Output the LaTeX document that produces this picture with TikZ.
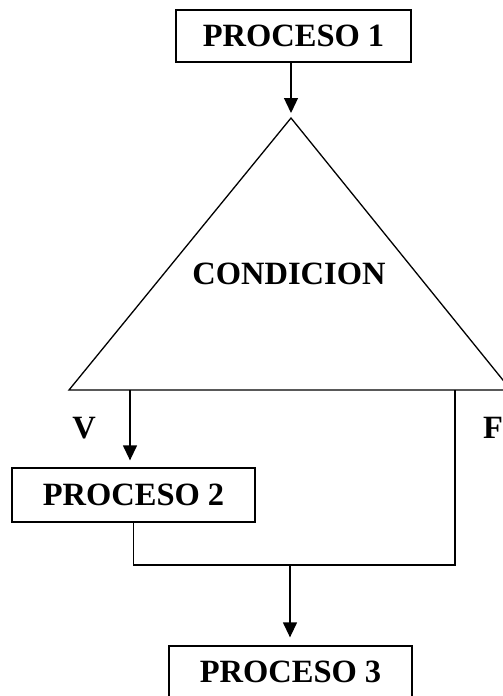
\documentclass[tikz,border=0pt]{standalone}
\usepackage{fontspec}
\setmainfont{Liberation Serif}
\usetikzlibrary{arrows.meta}
\begin{document}
\begin{tikzpicture}[x=1pt,y=-1pt,
  every node/.style={font=\fontsize{32.5}{32.5}\selectfont\bfseries},
  procbox/.style={draw,line width=1.3pt,inner sep=0pt,minimum height=#1},
  line/.style={line width=1.3pt},
  flow/.style={line width=1.3pt,-{Triangle[length=15pt,width=14pt]}}]
  \clip (0,0) rectangle (503,696);
  \useasboundingbox (0,0) rectangle (503,696);
  % process boxes
  \node[procbox=52pt,minimum width=235pt] (p1) at (293.5,36) {PROCESO 1};
  \node[procbox=54pt,minimum width=243pt] (p2) at (133.5,495) {PROCESO 2};
  \node[procbox=52pt,minimum width=243pt] (p3) at (290.5,672) {PROCESO 3};
  % decision triangle
  \coordinate (apex) at (291,118);
  \coordinate (bl) at (69,390);
  \coordinate (br) at (511,390);
  \draw[line] (apex) -- (bl) -- (br) -- cycle;
  \node (cond) at (289,274) {CONDICION};
  % branch points
  \coordinate (vb) at (130,390);
  \coordinate (fb) at (455,390);
  \coordinate (join) at (290,565);
  % connectors
  \draw[flow,shorten >=5pt] (p1.south -| apex) -- (apex);
  \draw[flow,shorten >=7pt] (vb) -- (vb |- p2.north);
  \draw[line] (fb) -- (fb |- join) -- (p2.south |- join) -- (p2.south);
  \draw[flow,shorten >=8pt] (join) -- (join |- p3.north);
  % branch labels
  \node (vlab) at (84,428) {V};
  \node (flab) at (493,428) {F};
\end{tikzpicture}
\end{document}
